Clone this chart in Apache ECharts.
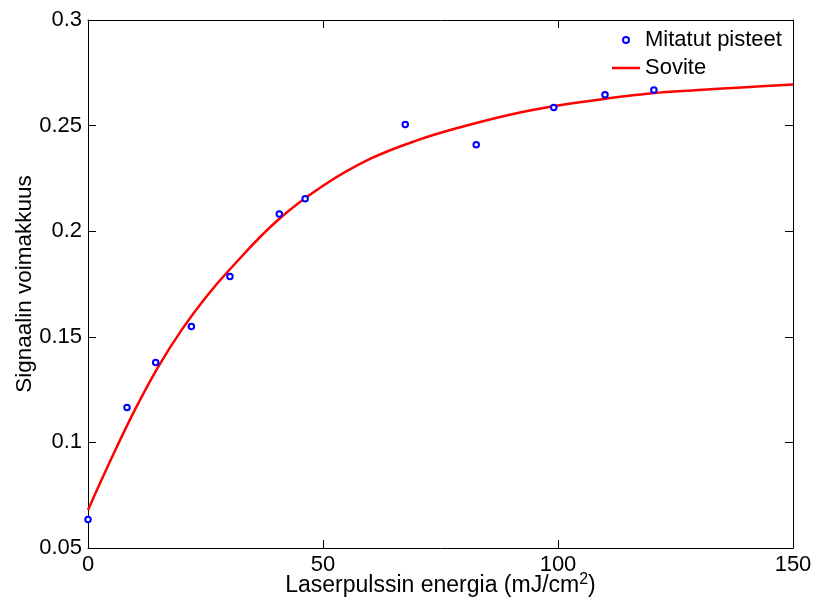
<!DOCTYPE html>
<html>
<head>
<meta charset="utf-8">
<script src="https://cdn.jsdelivr.net/npm/echarts@6/dist/echarts.min.js"></script>
<style>
  html, body { margin: 0; padding: 0; background: #fff; }
  #chart { width: 813px; height: 609px; }
</style>
</head>
<body>
<div id="chart"></div>
<script>
// Measured points: laser pulse energy (mJ/cm^2) vs. signal strength
const energy = [0, 8.3, 14.4, 22.0, 30.2, 40.7, 46.2, 67.5, 82.6, 99.1, 110.0, 120.4];
const signal = [0.0635, 0.1165, 0.1378, 0.1549, 0.1785, 0.2081, 0.2154, 0.2505, 0.2409, 0.2586, 0.2646, 0.2669];

// Fitted curve, sampled along the energy axis
const fitEnergy = [0, 5, 10, 15, 20, 25, 30, 40, 50, 60, 70, 80, 90, 100, 110, 120, 130, 140, 150];
const fitSignal = [0.068, 0.0925, 0.1155, 0.136, 0.1535, 0.1685, 0.1815, 0.2045, 0.2215, 0.2342, 0.2430,
                   0.2497, 0.2553, 0.2595, 0.2627, 0.2653, 0.2668, 0.2682, 0.2695];

// Axis ticks
const xTicks = [0, 50, 100, 150];
const yTicks = [0.05, 0.1, 0.15, 0.2, 0.25, 0.3];

const font = '"Liberation Sans", Arial, sans-serif';
const fontSize = 22;

const xMin = xTicks[0], xMax = xTicks[xTicks.length - 1], xStep = xTicks[1] - xTicks[0];
const yMin = yTicks[0], yMax = yTicks[yTicks.length - 1], yStep = +(yTicks[1] - yTicks[0]).toFixed(4);

const frameLine = { show: true, onZero: false, lineStyle: { color: '#000', width: 1 } };
const frameTick = { show: true, inside: true, length: 8, lineStyle: { color: '#000', width: 1 } };

const chart = echarts.init(document.getElementById('chart'), null, { renderer: 'canvas' });

chart.setOption({
  backgroundColor: '#fff',
  animation: false,
  textStyle: { fontFamily: font },
  grid: { left: 88, top: 20, right: 20, bottom: 61, containLabel: false, outerBoundsMode: 'none' },
  legend: {
    orient: 'vertical',
    left: 612,
    top: 29,
    padding: 0,
    itemWidth: 28,
    itemHeight: 6,
    itemGap: 6,
    textStyle: { fontFamily: font, fontSize: fontSize, color: '#000' },
    data: [
      { name: 'Mitatut pisteet', icon: 'circle' },
      { name: 'Sovite', icon: 'path://M0,0H28V2.5H0Z', itemStyle: { color: '#ff0000' } }
    ]
  },
  xAxis: [
    {
      type: 'value', position: 'bottom',
      min: xMin, max: xMax, interval: xStep,
      axisLine: frameLine, axisTick: frameTick, splitLine: { show: false },
      axisLabel: { margin: 6, fontFamily: font, fontSize: fontSize, color: '#000' },
      name: '{a|Laserpulssin energia (mJ/cm}{sup|2}{a|)}',
      nameLocation: 'middle',
      nameGap: 24,
      nameMoveOverlap: false,
      nameTextStyle: {
        fontFamily: font, fontSize: 23, color: '#000',
        verticalAlign: 'top',
        rich: {
          a: { fontFamily: font, fontSize: 23, color: '#000', lineHeight: 25, verticalAlign: 'bottom' },
          sup: { fontFamily: font, fontSize: 16, color: '#000', lineHeight: 16, verticalAlign: 'top', padding: [0, 0, 12, 0] }
        }
      }
    },
    {
      type: 'value', position: 'top',
      min: xMin, max: xMax, interval: xStep,
      axisLine: frameLine, axisTick: frameTick, splitLine: { show: false },
      axisLabel: { show: false }
    }
  ],
  yAxis: [
    {
      type: 'value', position: 'left',
      min: yMin, max: yMax, interval: yStep,
      axisLine: frameLine, axisTick: frameTick, splitLine: { show: false },
      axisLabel: { margin: 6, fontFamily: font, fontSize: fontSize, color: '#000' },
      name: 'Signaalin voimakkuus',
      nameLocation: 'middle',
      nameGap: 52,
      nameMoveOverlap: false,
      nameTextStyle: { fontFamily: font, fontSize: 22.5, color: '#000' }
    },
    {
      type: 'value', position: 'right',
      min: yMin, max: yMax, interval: yStep,
      axisLine: frameLine, axisTick: frameTick, splitLine: { show: false },
      axisLabel: { show: false }
    }
  ],
  series: [
    {
      name: 'Sovite',
      type: 'line',
      xAxisIndex: 0, yAxisIndex: 0,
      data: fitEnergy.map((x, i) => [x, fitSignal[i]]),
      smooth: 0.4,
      symbol: 'none',
      showSymbol: false,
      symbolKeepAspect: true,
      lineStyle: { color: '#ff0000', width: 2.5 },
      itemStyle: { color: '#ff0000' },
      z: 2
    },
    {
      name: 'Mitatut pisteet',
      type: 'scatter',
      xAxisIndex: 0, yAxisIndex: 0,
      data: energy.map((x, i) => [x, signal[i]]),
      symbol: 'circle',
      symbolSize: 5.5,
      itemStyle: { color: '#ffffff', borderColor: '#0000ff', borderWidth: 2, opacity: 1 },
      clip: false,
      z: 3
    }
  ]
});
</script>
</body>
</html>
